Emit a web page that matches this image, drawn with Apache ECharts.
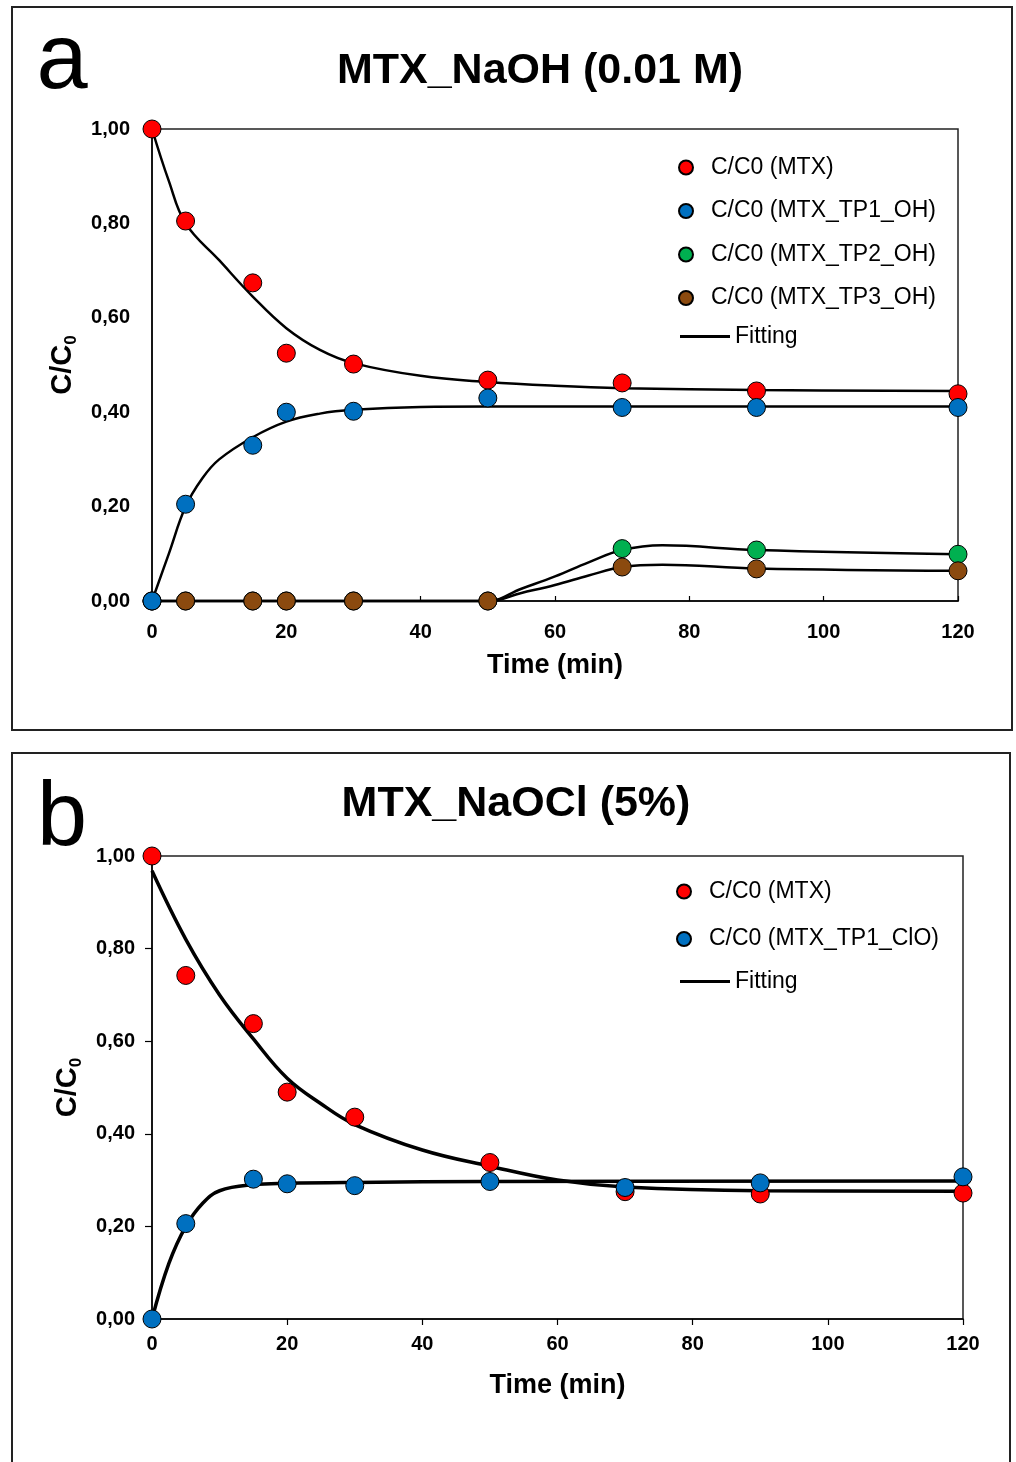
<!DOCTYPE html>
<html>
<head>
<meta charset="utf-8">
<script src="https://cdn.jsdelivr.net/npm/echarts@6/dist/echarts.min.js"></script>
<style>
  html, body { margin: 0; padding: 0; background: #fff; }
  #chart { width: 1016px; height: 1462px; }
</style>
</head>
<body>
<div id="chart"></div>
<script>
// sampling times (min)
var times = [0, 5, 15, 20, 30, 50, 70, 90, 120];

// panel a: MTX_NaOH (0.01 M)
var mtxA = [1.00, 0.805, 0.674, 0.525, 0.502, 0.468, 0.462, 0.445, 0.439];
var tp1A = [0.00, 0.205, 0.330, 0.400, 0.402, 0.430, 0.410, 0.410, 0.410];
var tp2A = [0.00, 0.00, 0.00, 0.00, 0.00, 0.00, 0.111, 0.108, 0.099];
var tp3A = [0.00, 0.00, 0.00, 0.00, 0.00, 0.00, 0.072, 0.068, 0.064];

// fitted curves, panel a
var fitMtxA = [[0, 1.00], [2.5, 0.89], [5, 0.80], [10, 0.722], [15, 0.645], [20, 0.578], [25, 0.532], [30, 0.504], [40, 0.477], [50, 0.464], [60, 0.456], [70, 0.451], [90, 0.447], [120, 0.445]];
var fitTp1A = [[0, 0], [2.5, 0.10], [5, 0.20], [7.5, 0.26], [10, 0.30], [15, 0.347], [20, 0.38], [25, 0.397], [30, 0.405], [40, 0.411], [50, 0.412], [70, 0.412], [120, 0.412]];
var fitTp2A = [[0, 0], [50, 0], [55, 0.026], [60, 0.052], [65, 0.082], [70, 0.108], [76, 0.118], [90, 0.108], [120, 0.099]];
var fitTp3A = [[0, 0], [50, 0], [55, 0.017], [60, 0.034], [65, 0.054], [70, 0.072], [76, 0.077], [90, 0.069], [120, 0.064]];

// panel b: MTX_NaOCl (5%)
var mtxB = [1.00, 0.742, 0.638, 0.490, 0.436, 0.338, 0.275, 0.270, 0.272];
var tp1B = [0.00, 0.206, 0.302, 0.292, 0.288, 0.297, 0.284, 0.294, 0.307];

// fitted curves, panel b
var fitMtxB = [[0, 0.968], [5, 0.82], [10, 0.70], [15, 0.605], [20, 0.52], [25, 0.465], [30, 0.42], [40, 0.365], [50, 0.33], [60, 0.30], [70, 0.285], [90, 0.277], [120, 0.276]];
var fitTp1B = [[0, 0], [2.5, 0.12], [5, 0.20], [7.5, 0.25], [10, 0.277], [15, 0.29], [20, 0.293], [30, 0.295], [50, 0.297], [120, 0.298]];

var xTicks = [0, 20, 40, 60, 80, 100, 120];
var yTicks = [0, 0.2, 0.4, 0.6, 0.8, 1.0];

var nameMtx = 'C/C0 (MTX)';
var nameTp1 = 'C/C0 (MTX_TP1_OH)';
var nameTp2 = 'C/C0 (MTX_TP2_OH)';
var nameTp3 = 'C/C0 (MTX_TP3_OH)';
var nameTp1B = 'C/C0 (MTX_TP1_ClO)';
var nameFit = 'Fitting';

var RED = '#ff0000', BLUE = '#0070c0', GREEN = '#00b050', BROWN = '#8b4a0f';
var FONT = 'Liberation Sans, Arial, sans-serif';

function pairs(xs, ys) {
  return xs.map(function (x, i) { return [x, ys[i]]; });
}

function dots(name, data, color, idx) {
  return {
    name: name, type: 'scatter', xAxisIndex: idx, yAxisIndex: idx,
    data: data, symbol: 'circle', symbolSize: 18, clip: false, z: 3,
    itemStyle: { color: color, borderColor: '#000', borderWidth: 1, opacity: 1 }
  };
}

function fit(data, idx, width) {
  return {
    name: nameFit, type: 'line', xAxisIndex: idx, yAxisIndex: idx,
    data: data, showSymbol: false, symbol: 'none', smooth: 0.4,
    clip: false, z: 2, color: '#000',
    lineStyle: { color: '#000', width: width }
  };
}

var fmtY = function (v) { return v.toFixed(2).replace('.', ','); };

function xAxisFor(idx, tickInside, labelMargin, nameGap) {
  return {
    type: 'value', gridIndex: idx, min: xTicks[0], max: xTicks[xTicks.length - 1], interval: 20,
    name: 'Time (min)', nameLocation: 'middle', nameGap: nameGap,
    nameTextStyle: { fontFamily: FONT, fontWeight: 'bold', fontSize: 27, color: '#000' },
    axisLine: { lineStyle: { color: '#000', width: 1.5 } },
    axisTick: { show: true, inside: tickInside, length: tickInside ? 5 : 6, lineStyle: { color: '#000', width: 1.2 } },
    axisLabel: { fontFamily: FONT, fontWeight: 'bold', fontSize: 20, color: '#000', margin: labelMargin },
    splitLine: { show: false }
  };
}

function yAxisFor(idx, showTick, labelMargin, nameGap) {
  return {
    type: 'value', gridIndex: idx, min: yTicks[0], max: yTicks[yTicks.length - 1], interval: 0.2,
    name: '{n|C/C}{s|0}', nameLocation: 'middle', nameGap: nameGap,
    nameTextStyle: {
      color: '#000',
      rich: {
        n: { fontFamily: FONT, fontWeight: 'bold', fontSize: 29, lineHeight: 34, color: '#000' },
        s: { fontFamily: FONT, fontWeight: 'bold', fontSize: 17, lineHeight: 16, verticalAlign: 'bottom', color: '#000' }
      }
    },
    axisLine: { show: true, lineStyle: { color: '#000', width: 1.5 } },
    axisTick: { show: showTick, inside: false, length: 7, lineStyle: { color: '#000', width: 1.2 } },
    axisLabel: { fontFamily: FONT, fontWeight: 'bold', fontSize: 20, color: '#000', margin: labelMargin, formatter: fmtY },
    splitLine: { show: false }
  };
}

var legendText = { fontFamily: FONT, fontSize: 23, color: '#000', lineHeight: 22 };

var chart = echarts.init(document.getElementById('chart'));

var option = {
  animation: false,
  backgroundColor: '#fff',
  graphic: [
    { type: 'rect', shape: { x: 12, y: 7, width: 1000, height: 723 }, style: { fill: 'none', stroke: '#222', lineWidth: 2 }, z: -10 },
    { type: 'rect', shape: { x: 12, y: 753, width: 998, height: 740 }, style: { fill: 'none', stroke: '#222', lineWidth: 2 }, z: -10 },
    { type: 'text', x: 62, y: 63, style: { text: 'a', font: 'normal 92px ' + FONT, fill: '#000', align: 'center', verticalAlign: 'middle' } },
    { type: 'text', x: 62, y: 820, style: { text: 'b', font: 'normal 90px ' + FONT, fill: '#000', align: 'center', verticalAlign: 'middle' } },
    { type: 'text', x: 540, y: 71, style: { text: 'MTX_NaOH (0.01 M)', font: 'bold 43px ' + FONT, fill: '#000', align: 'center', verticalAlign: 'middle' } },
    { type: 'text', x: 516, y: 804, style: { text: 'MTX_NaOCl (5%)', font: 'bold 43px ' + FONT, fill: '#000', align: 'center', verticalAlign: 'middle' } }
  ],
  legend: [
    {
      orient: 'vertical', left: 673, top: 151, itemWidth: 40, itemHeight: 14, itemGap: 20.5,
      data: [nameMtx, nameTp1, nameTp2, nameTp3], textStyle: legendText, selectedMode: false
    },
    {
      orient: 'vertical', left: 675, top: 320, itemWidth: 50, itemHeight: 3, itemGap: 0,
      data: [{ name: nameFit, icon: 'rect' }], textStyle: legendText, selectedMode: false
    },
    {
      orient: 'vertical', left: 671, top: 875, itemWidth: 40, itemHeight: 14, itemGap: 24.5,
      data: [nameMtx, nameTp1B], textStyle: legendText, selectedMode: false
    },
    {
      orient: 'vertical', left: 675, top: 965, itemWidth: 50, itemHeight: 3, itemGap: 0,
      data: [{ name: nameFit, icon: 'rect' }], textStyle: legendText, selectedMode: false
    }
  ],
  grid: [
    { left: 152, top: 129, width: 806, height: 472, show: true, borderColor: '#222', borderWidth: 1.5 },
    { left: 152, top: 856, width: 811, height: 463, show: true, borderColor: '#222', borderWidth: 1.5 }
  ],
  xAxis: [
    xAxisFor(0, true, 21, 51),
    xAxisFor(1, false, 15, 53)
  ],
  yAxis: [
    yAxisFor(0, false, 22, 67),
    yAxisFor(1, true, 17, 65)
  ],
  series: [
    fit(fitMtxA, 0, 2.5),
    fit(fitTp1A, 0, 2.5),
    fit(fitTp2A, 0, 2.5),
    fit(fitTp3A, 0, 2.5),
    dots(nameMtx, pairs(times, mtxA), RED, 0),
    dots(nameTp2, pairs(times, tp2A), GREEN, 0),
    dots(nameTp3, pairs(times, tp3A), BROWN, 0),
    dots(nameTp1, pairs(times, tp1A), BLUE, 0),

    fit(fitMtxB, 1, 3.5),
    fit(fitTp1B, 1, 3.5),
    dots(nameMtx, pairs(times, mtxB), RED, 1),
    dots(nameTp1B, pairs(times, tp1B), BLUE, 1)
  ]
};

chart.setOption(option);
</script>
</body>
</html>
